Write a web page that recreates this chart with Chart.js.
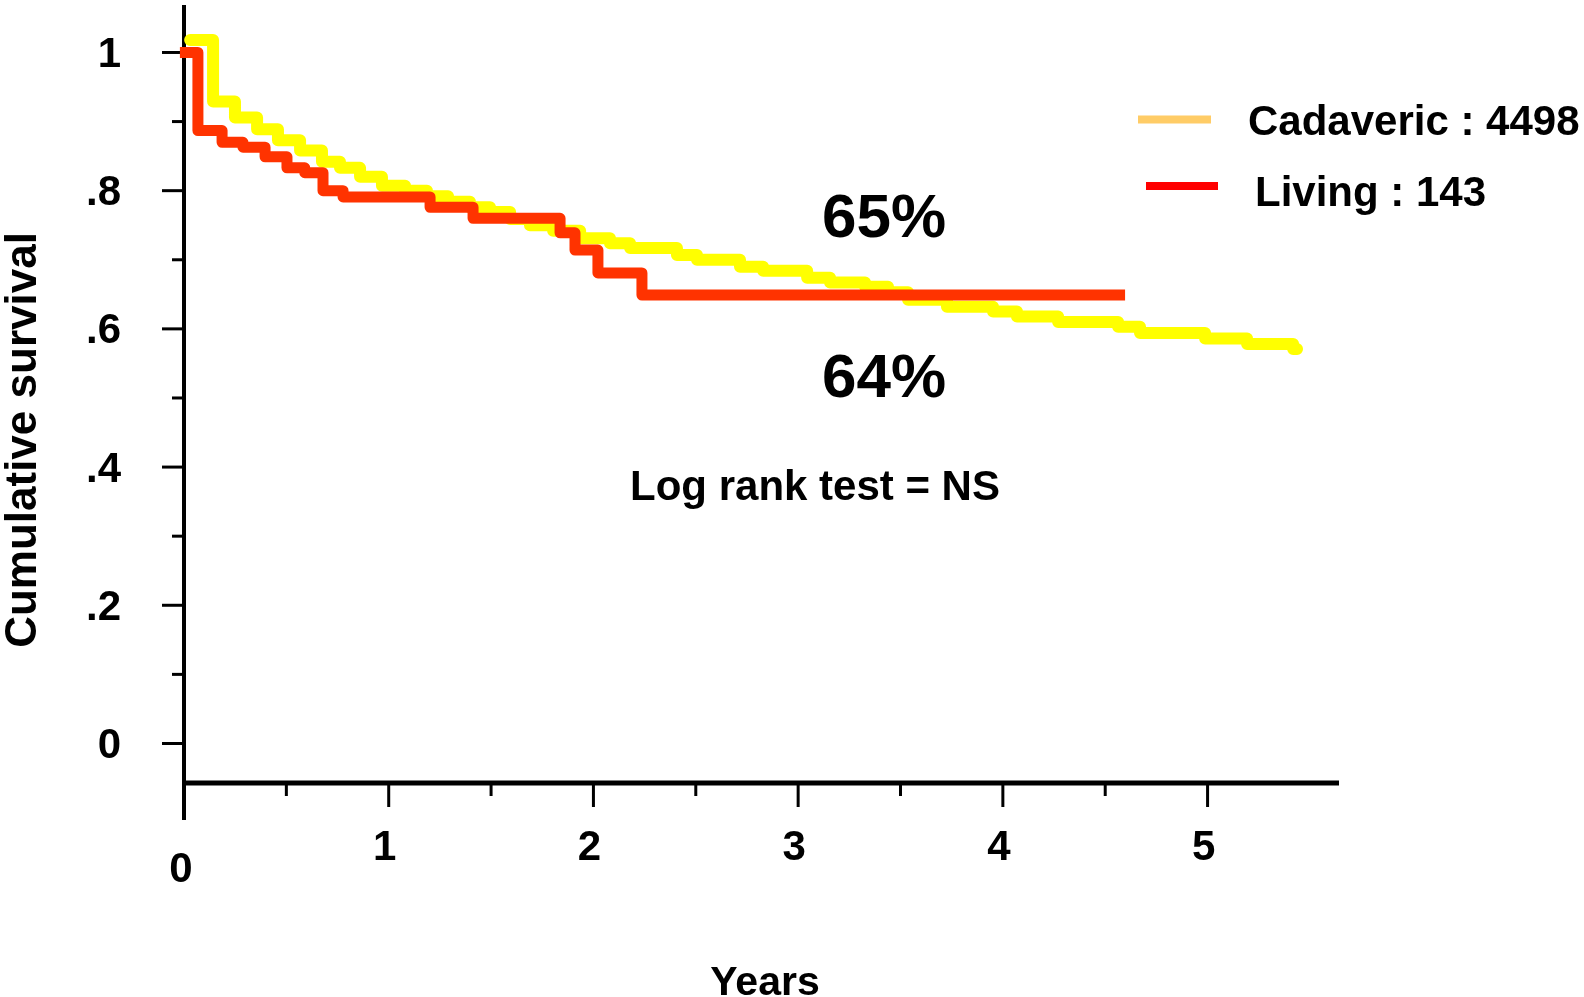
<!DOCTYPE html>
<html lang="en">
<head>
<meta charset="UTF-8">
<title>Cumulative survival - cadaveric vs living</title>
<script src="https://cdn.jsdelivr.net/npm/chart.js"></script>
<style>
  html, body { margin: 0; padding: 0; background: #fff; }
</style>
</head>
<body>
<canvas id="survivalChart" width="1584" height="997"></canvas>
<script>
// Kaplan-Meier steps: time of each drop (years) and survival after it
const cadavericTimes = [0.03, 0.142, 0.249, 0.357, 0.459, 0.567, 0.674, 0.762, 0.86, 0.967,
  1.08, 1.187, 1.29, 1.397, 1.495, 1.593, 1.69, 1.803, 1.935, 2.081, 2.179, 2.408, 2.506,
  2.716, 2.829, 3.044, 3.156, 3.327, 3.439, 3.537, 3.727, 3.952, 4.069, 4.27, 4.563, 4.67,
  4.988, 5.193, 5.418, 5.437];
const cadavericSurvival = [1.018, 0.929, 0.906, 0.889, 0.873, 0.858, 0.842, 0.833, 0.82, 0.807,
  0.8, 0.792, 0.784, 0.776, 0.769, 0.759, 0.75, 0.742, 0.731, 0.724, 0.717, 0.707, 0.7,
  0.69, 0.684, 0.674, 0.667, 0.661, 0.653, 0.642, 0.632, 0.625, 0.618, 0.61, 0.603, 0.594,
  0.586, 0.578, 0.571, 0.571];

const livingTimes = [-0.02, 0.068, 0.186, 0.288, 0.396, 0.503, 0.59, 0.679, 0.777, 1.202, 1.412,
  1.837, 1.91, 2.022, 2.237, 4.597];
const livingSurvival = [1.0, 0.887, 0.87, 0.863, 0.849, 0.833, 0.826, 0.8, 0.791, 0.776, 0.76,
  0.739, 0.714, 0.681, 0.649, 0.649];

const seriesNames = ['Cadaveric', 'Living'];
const seriesCounts = [4498, 143];

const yearTicks = [0, 1, 2, 3, 4, 5];
const yearMinorTicks = [0.5, 1.5, 2.5, 3.5, 4.5];
const survivalTicks = [0, 0.2, 0.4, 0.6, 0.8, 1];
const survivalTickLabels = ['0', '.2', '.4', '.6', '.8', '1'];
const survivalMinorTicks = [0.1, 0.3, 0.5, 0.7, 0.9];

const livingRate = '65%';
const cadavericRate = '64%';
const testNote = 'Log rank test = NS';

const FONT = "'Liberation Sans', Arial, sans-serif";

function toPoints(times, values) {
  return times.map((t, i) => ({ x: t, y: values[i] }));
}

function stroke(ctx, x1, y1, x2, y2) {
  ctx.beginPath();
  ctx.moveTo(x1, y1);
  ctx.lineTo(x2, y2);
  ctx.stroke();
}

// black axes with long/short tick marks, drawn under the curves
const axesPlugin = {
  id: 'kmAxes',
  beforeDatasetsDraw(chart) {
    const { ctx, chartArea: a, scales: { x, y } } = chart;
    ctx.save();
    ctx.strokeStyle = '#000';
    ctx.lineCap = 'butt';
    ctx.lineWidth = 4;
    stroke(ctx, a.left, a.top, a.left, a.bottom + 37);
    ctx.lineWidth = 5;
    stroke(ctx, a.left - 2, a.bottom, a.right, a.bottom);
    ctx.lineWidth = 3;
    survivalTicks.forEach(v => {
      const py = y.getPixelForValue(v);
      stroke(ctx, a.left - 22, py, a.left, py);
    });
    survivalMinorTicks.forEach(v => {
      const py = y.getPixelForValue(v);
      stroke(ctx, a.left - 12, py, a.left, py);
    });
    yearTicks.filter(v => v > 0).forEach(v => {
      const px = x.getPixelForValue(v);
      stroke(ctx, px, a.bottom, px, a.bottom + 24);
    });
    yearMinorTicks.forEach(v => {
      const px = x.getPixelForValue(v);
      stroke(ctx, px, a.bottom, px, a.bottom + 13);
    });
    ctx.restore();
  },
  afterDraw(chart) {
    const { ctx, scales: { x } } = chart;
    ctx.save();
    ctx.fillStyle = '#000';

    // origin label sits lower than the other year labels
    ctx.font = 'bold 42px ' + FONT;
    ctx.textAlign = 'center';
    ctx.textBaseline = 'alphabetic';
    ctx.fillText('0', x.getPixelForValue(0) - 3, 882);

    ctx.font = 'bold 41px ' + FONT;
    ctx.fillText('Years', 765, 995);

    ctx.save();
    ctx.translate(36, 440);
    ctx.rotate(-Math.PI / 2);
    ctx.font = 'bold 44px ' + FONT;
    ctx.fillText('Cumulative survival', 0, 0);
    ctx.restore();

    ctx.font = 'bold 62px ' + FONT;
    ctx.fillText(livingRate, 884, 237);
    ctx.fillText(cadavericRate, 884, 397);

    ctx.font = 'bold 42px ' + FONT;
    ctx.fillText(testNote, 815, 500);

    // legend
    ctx.lineCap = 'butt';
    ctx.lineWidth = 8;
    ctx.strokeStyle = '#ffcc66';
    stroke(ctx, 1138, 119.5, 1211, 119.5);
    ctx.strokeStyle = '#ff0000';
    stroke(ctx, 1146, 186, 1218, 186);
    ctx.textAlign = 'left';
    ctx.fillText(seriesNames[0] + ' : ' + seriesCounts[0], 1248, 135);
    ctx.fillText(seriesNames[1] + ' : ' + seriesCounts[1], 1255, 206);
    ctx.restore();
  }
};

// invisible tick marks only push the labels away from the axis
const hiddenTicks = len => ({
  display: true,
  drawOnChartArea: false,
  drawTicks: true,
  tickLength: len,
  tickColor: 'rgba(0,0,0,0)',
  color: 'rgba(0,0,0,0)'
});

// fixed axis boxes, no extra room for overhanging labels
const fixBox = (w, h) => s => {
  if (w !== null) s.width = w;
  if (h !== null) s.height = h;
  s.paddingTop = 0;
  s.paddingBottom = 0;
  s.paddingLeft = 0;
  s.paddingRight = 0;
};

const ctx = document.getElementById('survivalChart').getContext('2d');
const chart = new Chart(ctx, {
  type: 'line',
  data: {
    datasets: [{
      label: seriesNames[1],
      data: toPoints(livingTimes, livingSurvival),
      borderColor: '#ff3300',
      borderWidth: 11,
      stepped: 'before',
      borderJoinStyle: 'round',
      borderCapStyle: 'butt',
      pointRadius: 0,
      fill: false,
      clip: false,
      order: 0
    }, {
      label: seriesNames[0],
      data: toPoints(cadavericTimes, cadavericSurvival),
      borderColor: '#ffff00',
      borderWidth: 12,
      stepped: 'before',
      borderJoinStyle: 'round',
      borderCapStyle: 'round',
      pointRadius: 0,
      fill: false,
      clip: false,
      order: 1
    }]
  },
  options: {
    responsive: false,
    animation: false,
    events: [],
    layout: { padding: { top: 5, right: 245, left: 0, bottom: 0 } },
    plugins: {
      legend: { display: false },
      tooltip: { enabled: false }
    },
    scales: {
      x: {
        type: 'linear',
        min: 0,
        max: 5.642,
        grid: hiddenTicks(40),
        border: { display: false },
        afterFit: fixBox(null, 214),
        afterBuildTicks: s => { s.ticks = yearTicks.map(v => ({ value: v })); },
        ticks: {
          padding: 0,
          labelOffset: -4,
          color: '#000',
          font: { family: FONT, size: 42, weight: 'bold' },
          maxRotation: 0,
          autoSkip: false,
          callback: v => (v === 0 ? '' : String(v))
        }
      },
      y: {
        type: 'linear',
        min: -0.0572,
        max: 1.0687,
        grid: hiddenTicks(63),
        border: { display: false },
        afterFit: fixBox(184, null),
        afterBuildTicks: s => { s.ticks = survivalTicks.map(v => ({ value: v })); },
        ticks: {
          padding: 0,
          labelOffset: 3,
          color: '#000',
          font: { family: FONT, size: 42, weight: 'bold' },
          autoSkip: false,
          callback: v => survivalTickLabels[survivalTicks.indexOf(v)]
        }
      }
    }
  },
  plugins: [axesPlugin]
});
</script>
</body>
</html>
